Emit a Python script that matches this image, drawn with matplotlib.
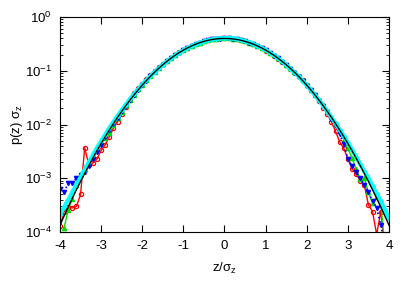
import numpy as np
import matplotlib
matplotlib.use("Agg")
import matplotlib.pyplot as plt
from matplotlib.ticker import LogLocator, NullFormatter, MultipleLocator

plt.rcParams['font.family'] = ['Liberation Sans', 'DejaVu Sans']
plt.rcParams['mathtext.fontset'] = 'custom'
plt.rcParams['mathtext.rm'] = 'Liberation Sans'
plt.rcParams['mathtext.it'] = 'Liberation Sans'
plt.rcParams['axes.unicode_minus'] = False

# bin centres z/sigma_z
z = np.round(np.linspace(-4.0, 4.0, 81), 1)

# gaussian reference curve
gauss = [1.34e-4, 1.99e-4, 2.92e-4, 4.25e-4, 6.12e-4, 8.73e-4, 1.23e-3, 1.72e-3, 2.38e-3, 3.27e-3,
         4.43e-3, 5.95e-3, 7.92e-3, 1.04e-2, 1.36e-2, 1.75e-2, 2.24e-2, 2.83e-2, 3.55e-2, 4.40e-2,
         5.40e-2, 6.56e-2, 7.90e-2, 9.40e-2, .1109, .1295, .1497, .1714, .1942, .2179,
         .2420, .2661, .2897, .3123, .3332, .3521, .3683, .3814, .3910, .3970,
         .3989,
         .3970, .3910, .3814, .3683, .3521, .3332, .3123, .2897, .2661, .2420,
         .2179, .1942, .1714, .1497, .1295, .1109, 9.40e-2, 7.90e-2, 6.56e-2, 5.40e-2,
         4.40e-2, 3.55e-2, 2.83e-2, 2.24e-2, 1.75e-2, 1.36e-2, 1.04e-2, 7.92e-3, 5.95e-3, 4.43e-3,
         3.27e-3, 2.38e-3, 1.72e-3, 1.23e-3, 8.73e-4, 6.12e-4, 4.25e-4, 2.92e-4, 1.99e-4, 1.34e-4]

red = [1.3e-4, 2.4e-4, 2.9e-4, 2.8e-4, 3.0e-4, 5.0e-4, 3.7e-3, 1.8e-3, 1.9e-3, 2.3e-3,
       3.3e-3, 4.2e-3, 5.9e-3, 8.6e-3, 1.12e-2, 1.6e-2, 2.1e-2, 2.9e-2, 3.9e-2, 4.7e-2,
       5.6e-2, 6.9e-2, 8.2e-2, 9.9e-2, .115, .133, .152, .176, .196, .222,
       .244, .270, .291, .316, .335, .355, .369, .384, .393, .399,
       .401,
       .402, .396, .385, .370, .352, .331, .308, .284, .262, .236,
       .213, .188, .167, .147, .127, .109, .0935, .0795, .0665, .0545,
       .0445, .0355, .0275, .0205, .0158, .0112, .0075, .0048, .0036, .0023,
       .0015, .0012, .0009, .00075, .00032, .00024, .00009, .00024, .00005, np.nan]

green = [np.nan, 1.2e-4, 2.6e-4, 4.2e-4, 7.5e-4, 1.2e-3, 1.6e-3, 1.9e-3, 2.6e-3, 3.5e-3,
         4.5e-3, 5.6e-3, 7.0e-3, 9.8e-3, 1.3e-2, 1.72e-2, 2.3e-2, 2.9e-2, 3.6e-2, 4.5e-2,
         5.5e-2, 6.6e-2, 8.0e-2, 9.6e-2, .112, .131, .151, .172, .195, .219,
         .243, .268, .291, .313, .335, .354, .370, .383, .393, .399,
         .402,
         .401, .395, .386, .372, .355, .335, .313, .290, .266, .241,
         .217, .193, .170, .149, .129, .111, .0945, .0795, .066, .0545,
         .0445, .036, .0288, .0228, .0178, .0137, .0102, .0075, .0052, .0036,
         .0024, .0015, .00095, .0010, .00055, .00034, .00045, .00035, .00005, np.nan]

blue = [6.2e-4, 5.6e-4, 8.1e-4, 8.1e-4, 1.0e-3, 1.15e-3, 1.3e-3, 1.7e-3, 2.3e-3, 3.1e-3,
        4.2e-3, 5.8e-3, 7.8e-3, 1.02e-2, 1.34e-2, 1.75e-2, 2.25e-2, 2.85e-2, 3.6e-2, 4.4e-2,
        5.4e-2, 6.5e-2, 7.9e-2, 9.4e-2, .111, .129, .150, .171, .194, .218,
        .242, .266, .290, .313, .334, .352, .368, .382, .392, .398,
        .400,
        .399, .393, .383, .369, .353, .334, .312, .288, .263, .239,
        .215, .192, .169, .147, .127, .109, .0925, .0775, .0645, .053,
        .0432, .0348, .0278, .0218, .0168, .0128, .0094, .0066, .0043, .0023,
        .0017, .0013, .0010, .00075, .00055, .00038, .00028, .000135, .00005, np.nan]

cyan = [2.1e-4, 2.9e-4, 4.0e-4, 5.5e-4, 7.6e-4, 1.05e-3, 1.45e-3, 2.0e-3, 2.7e-3, 3.7e-3,
        4.9e-3, 6.5e-3, 8.6e-3, 1.12e-2, 1.45e-2, 1.85e-2, 2.35e-2, 2.95e-2, 3.7e-2, 4.55e-2,
        5.55e-2, 6.7e-2, 8.0e-2, 9.5e-2, .112, .130, .150, .171, .194, .218,
        .241, .265, .289, .312, .333, .352, .369, .383, .393, .400,
        .404,
        .405, .400, .390, .376, .359, .339, .316, .292, .267, .243,
        .218, .194, .171, .149, .129, .110, .0935, .0785, .065, .0535,
        .0437, .0353, .0282, .0223, .0175, .0136, .0105, .0080, .0061, .0046,
        .0034, .0025, .00185, .00135, .00100, .00072, .00052, .00038, .00026, .00018]

fig = plt.figure(figsize=(4.15, 2.91), dpi=100)
ax = fig.add_axes([0.1446, 0.2027, 0.7927, 0.7389])

ax.plot(z, red, '-', color='#ff0000', lw=1, marker='o', ms=3, mfc='none', mew=0.9)
ax.plot(z, green, '-', color='#00dd00', lw=1, marker='^', ms=3)
ax.plot(z, blue, ':', color='#0000ff', lw=1.2, marker='v', ms=3)
ax.plot(z, cyan, '-', color='#00ffff', lw=3, marker='D', ms=2)
ax.plot(z, gauss, '-', color='black', lw=1)

ax.set_yscale('log')
ax.set_xlim(-4, 4)
ax.set_ylim(1e-4, 1)
ax.xaxis.set_major_locator(MultipleLocator(1))
ax.yaxis.set_major_locator(LogLocator(base=10))
ax.yaxis.set_minor_locator(LogLocator(base=10, subs=np.arange(2, 10)))
ax.yaxis.set_minor_formatter(NullFormatter())
ax.tick_params(which='both', direction='in', top=True, right=True, labelsize=9.5)
ax.tick_params(which='major', length=5, pad=6)
ax.tick_params(which='minor', length=2.5)

ax.set_xlabel(r'z/$\sigma_z$', fontsize=9.5, labelpad=6)
ax.set_ylabel(r'p(z) $\sigma_z$', fontsize=9.5, labelpad=0)

fig.savefig('out.png', dpi=100)
